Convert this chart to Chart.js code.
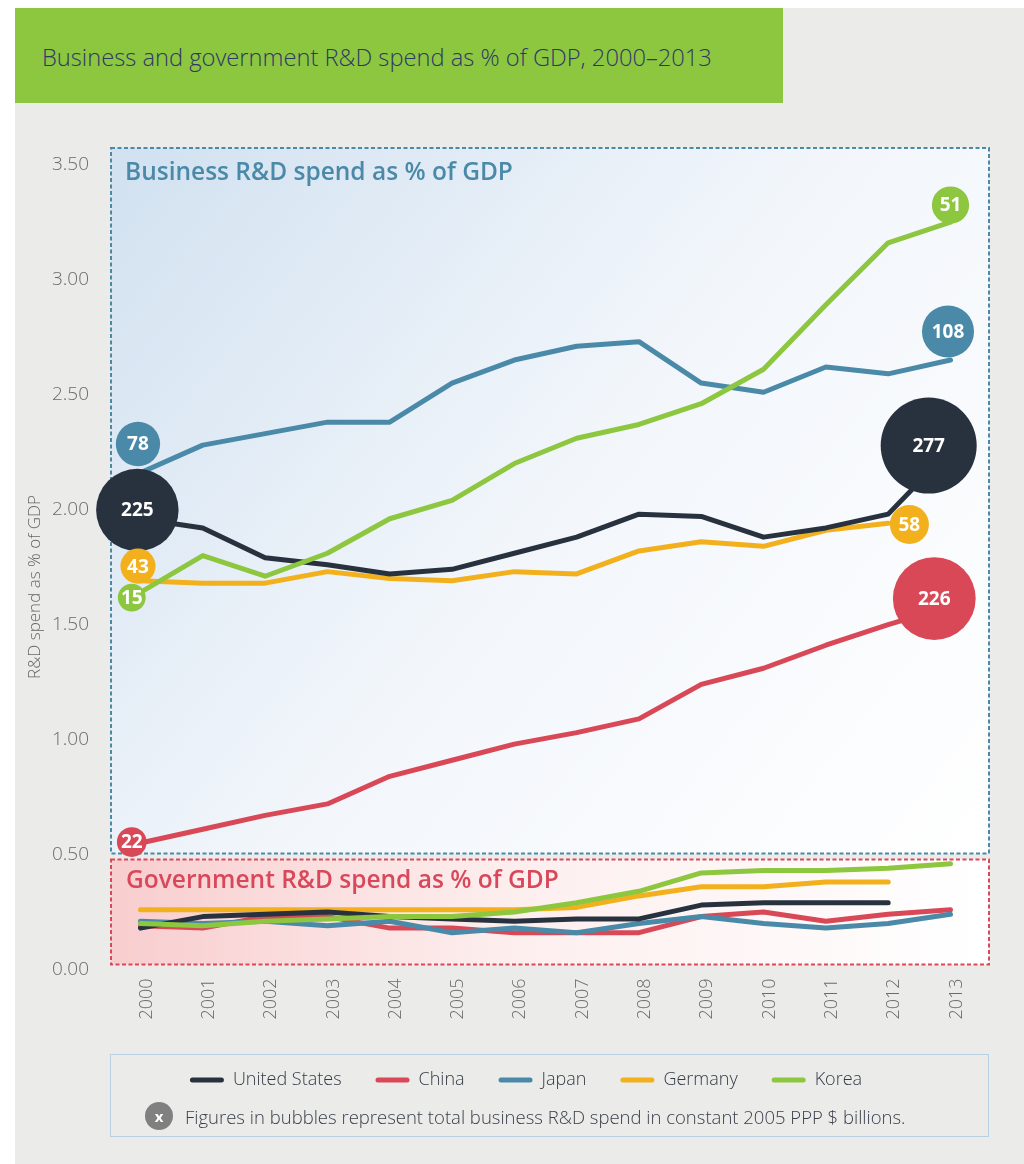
<!DOCTYPE html>
<html>
<head>
<meta charset="utf-8">
<title>Business and government R&amp;D spend as % of GDP, 2000–2013</title>
<script src="https://cdn.jsdelivr.net/npm/chart.js@4.4.1/dist/chart.umd.min.js"></script>
<style>
  body { margin: 0; background: #fff; font-family: "Open Sans", "Noto Sans", sans-serif; }
  #page { position: relative; width: 1024px; height: 1164px; overflow: hidden; }
  #panel { position: absolute; left: 15px; top: 8px; right: 0; bottom: 0; background: #ebebe9; }
  #header { position: absolute; left: 15px; top: 8px; width: 768px; height: 95px; background: #8dc63f;
            display: flex; align-items: center; }
  #header h1 { margin: 0 0 0 27px; padding-top: 3px; font-size: 23.7px; font-weight: 300; color: #2d3868; }
  #legend-frame { position: absolute; left: 110px; top: 1054px; width: 877px; height: 81px; border: 1px solid #b9cfe5; }
  #note { position: absolute; left: 145px; top: 1102px; height: 28px; display: flex; align-items: center;
          font-size: 18.5px; font-weight: 300; color: #383e4a; }
  #note .x { width: 28px; height: 28px; border-radius: 50%; background: #808080; color: #fff; font-weight: 700;
             font-size: 15px; display: flex; align-items: center; justify-content: center; margin-right: 12px; }
  canvas { position: absolute; left: 0; top: 0; }
</style>
</head>
<body>
<div id="page">
  <div id="panel"></div>
  <div id="header"><h1>Business and government R&amp;D spend as % of GDP, 2000–2013</h1></div>
  <div id="legend-frame"></div>
  <canvas id="rd-chart" width="1024" height="1164"></canvas>
  <div id="note"><span class="x">x</span>Figures in bubbles represent total business R&amp;D spend in constant 2005 PPP $ billions.</div>
</div>
<script>
const years = [2000, 2001, 2002, 2003, 2004, 2005, 2006, 2007, 2008, 2009, 2010, 2011, 2012, 2013];
const countries = ['United States', 'China', 'Japan', 'Germany', 'Korea'];

// business R&D spend, % of GDP
const businessUS      = [1.96, 1.92, 1.79, 1.76, 1.72, 1.74, 1.81, 1.88, 1.98, 1.97, 1.88, 1.92, 1.98, 2.26];
const businessChina   = [0.55, 0.61, 0.67, 0.72, 0.84, 0.91, 0.98, 1.03, 1.09, 1.24, 1.31, 1.41, 1.50, 1.58];
const businessJapan   = [2.16, 2.28, 2.33, 2.38, 2.38, 2.55, 2.65, 2.71, 2.73, 2.55, 2.51, 2.62, 2.59, 2.65];
const businessGermany = [1.69, 1.68, 1.68, 1.73, 1.70, 1.69, 1.73, 1.72, 1.82, 1.86, 1.84, 1.91, 1.94, null];
const businessKorea   = [1.64, 1.80, 1.71, 1.81, 1.96, 2.04, 2.20, 2.31, 2.37, 2.46, 2.61, 2.89, 3.16, 3.25];

// government R&D spend, % of GDP
const govUS      = [0.18, 0.23, 0.24, 0.25, 0.23, 0.22, 0.21, 0.22, 0.22, 0.28, 0.29, 0.29, 0.29, null];
const govChina   = [0.19, 0.18, 0.23, 0.23, 0.18, 0.18, 0.16, 0.16, 0.16, 0.23, 0.25, 0.21, 0.24, 0.26];
const govJapan   = [0.21, 0.20, 0.21, 0.19, 0.21, 0.16, 0.18, 0.16, 0.20, 0.23, 0.20, 0.18, 0.20, 0.24];
const govGermany = [0.26, 0.26, 0.26, 0.26, 0.26, 0.26, 0.26, 0.27, 0.32, 0.36, 0.36, 0.38, 0.38, null];
const govKorea   = [0.20, 0.19, 0.21, 0.22, 0.23, 0.23, 0.25, 0.29, 0.34, 0.42, 0.43, 0.43, 0.44, 0.46];

// bubbles: total business R&D spend, constant 2005 PPP $ bn
const bubbleValues  = [78, 225, 43, 15, 22, 51, 108, 277, 58, 226];
const bubbleCountry = ['Japan', 'United States', 'Germany', 'Korea', 'China',
                       'Korea', 'Japan', 'United States', 'Germany', 'China'];
const bubbleYears   = [1999.96, 1999.95, 1999.96, 1999.86, 1999.86, 2013.0, 2012.96, 2012.65, 2012.34, 2012.74];
const bubbleLevels  = [2.285, 1.998, 1.754, 1.617, 0.554, 3.324, 2.774, 2.278, 1.935, 1.613];

const yTicks = [0, 0.5, 1, 1.5, 2, 2.5, 3, 3.5];

const colors = {
  'United States': '#28323f',
  'China': '#d84857',
  'Japan': '#4a8aa8',
  'Germany': '#f2b11c',
  'Korea': '#8dc63f'
};
// lower = drawn on top
const drawOrder = { 'Korea': 1, 'United States': 2, 'Japan': 3, 'Germany': 4, 'China': 5 };

const FONT = '"Open Sans", "Noto Sans", sans-serif';
const business = [businessUS, businessChina, businessJapan, businessGermany, businessKorea];
const government = [govUS, govChina, govJapan, govGermany, govKorea];

function lineSet(label, country, values) {
  return {
    type: 'line',
    label: label,
    data: years.map((yr, i) => ({ x: yr, y: values[i] })),
    borderColor: colors[country],
    backgroundColor: colors[country],
    borderWidth: 5,
    borderJoinStyle: 'round',
    borderCapStyle: 'round',
    pointRadius: 0,
    tension: 0,
    spanGaps: false,
    order: drawOrder[country]
  };
}

const datasets = [];
countries.forEach((c, i) => datasets.push(lineSet(c, c, business[i])));
countries.forEach((c, i) => datasets.push(lineSet(c + ' government', c, government[i])));
datasets.push({
  type: 'bubble',
  label: 'bubbles',
  data: bubbleValues.map((v, i) => ({ x: bubbleYears[i], y: bubbleLevels[i] })),
  backgroundColor: ctx => colors[bubbleCountry[ctx.dataIndex]],
  radius: ctx => 12 + 0.13 * bubbleValues[ctx.dataIndex],
  borderWidth: 0,
  clip: false,
  order: 0
});

// shaded dashed panels behind the lines
const panels = {
  id: 'panels',
  beforeDatasetsDraw(chart) {
    const { ctx, chartArea: a, scales: { y } } = chart;
    const split = y.getPixelForValue(0.5);
    ctx.save();

    let g = ctx.createLinearGradient(a.left, a.top, a.right, split);
    g.addColorStop(0, '#d1e1f0');
    g.addColorStop(0.5, '#f2f6fb');
    g.addColorStop(1, '#ffffff');
    ctx.fillStyle = g;
    ctx.fillRect(a.left, a.top, a.right - a.left, split - 1 - a.top);

    const gTop = split + 5, gBottom = a.bottom - 5;
    g = ctx.createLinearGradient(a.left, 0, a.right, 0);
    g.addColorStop(0, '#f8cdce');
    g.addColorStop(0.45, '#fdeeee');
    g.addColorStop(1, '#ffffff');
    ctx.fillStyle = g;
    ctx.fillRect(a.left, gTop, a.right - a.left, gBottom - gTop);

    ctx.lineWidth = 2;
    ctx.setLineDash([4, 2.5]);
    ctx.strokeStyle = '#4a8aa8';
    ctx.strokeRect(a.left, a.top, a.right - a.left, split - 1 - a.top);
    ctx.strokeStyle = '#d9485a';
    ctx.strokeRect(a.left, gTop, a.right - a.left, gBottom - gTop);
    ctx.setLineDash([]);

    ctx.font = '600 24.5px ' + FONT;
    ctx.textBaseline = 'alphabetic';
    ctx.fillStyle = '#4a8aa8';
    ctx.fillText('Business R&D spend as % of GDP', a.left + 14, a.top + 32);
    ctx.fillStyle = '#d9485a';
    ctx.fillText('Government R&D spend as % of GDP', a.left + 15, gTop + 28);

    // y axis title
    ctx.translate(35, 587);
    ctx.rotate(-Math.PI / 2);
    ctx.font = '300 17px ' + FONT;
    ctx.fillStyle = '#666';
    ctx.textAlign = 'center';
    ctx.textBaseline = 'middle';
    ctx.fillText('R&D spend as % of GDP', 0, 0);
    ctx.restore();
  }
};

// numbers inside bubbles
const bubbleLabels = {
  id: 'bubbleLabels',
  afterDatasetsDraw(chart) {
    const { ctx } = chart;
    const meta = chart.getDatasetMeta(datasets.length - 1);
    ctx.save();
    ctx.font = '700 19px ' + FONT;
    ctx.fillStyle = '#fff';
    ctx.textAlign = 'center';
    ctx.textBaseline = 'middle';
    meta.data.forEach((el, i) => ctx.fillText(String(bubbleValues[i]), el.x, el.y + 1));
    ctx.restore();
  }
};

new Chart(document.getElementById('rd-chart'), {
  type: 'line',
  data: { datasets },
  plugins: [panels, bubbleLabels],
  options: {
    responsive: false,
    animation: false,
    events: [],
    layout: { autoPadding: false, padding: { left: 63, top: 148, right: 35, bottom: 65 } },
    scales: {
      x: {
        type: 'linear',
        min: 1999.527,
        max: 2013.618,
        grid: { display: false, drawTicks: false },
        border: { display: false },
        afterBuildTicks: s => { s.ticks = years.map(v => ({ value: v })); },
        afterFit: s => { s.height = 67.5; s.paddingLeft = 0; s.paddingRight = 0; },
        ticks: {
          minRotation: 90,
          maxRotation: 90,
          autoSkip: false,
          padding: 9,
          labelOffset: 6,
          color: '#6b6b6b',
          font: { family: FONT, size: 18, weight: 300 },
          callback: v => String(v)
        }
      },
      y: {
        min: 0,
        max: 3.572,
        grid: { display: false, drawTicks: false },
        border: { display: false },
        afterBuildTicks: s => { s.ticks = yTicks.map(v => ({ value: v })); },
        afterFit: s => { s.width = 48; },
        ticks: {
          mirror: true,
          padding: -59,
          color: '#6b6b6b',
          font: { family: FONT, size: 19, weight: 300 },
          callback: v => v.toFixed(2)
        }
      }
    },
    plugins: {
      tooltip: { enabled: false },
      legend: {
        position: 'bottom',
        labels: {
          boxWidth: 34,
          boxHeight: 5,
          padding: 34,
          useBorderRadius: true,
          borderRadius: 2.5,
          color: '#333a45',
          font: { family: FONT, size: 18, weight: 300 },
          filter: item => item.datasetIndex < countries.length,
          sort: (a, b) => a.datasetIndex - b.datasetIndex,
          generateLabels: chart => Chart.defaults.plugins.legend.labels.generateLabels(chart)
            .map(item => Object.assign(item, { lineWidth: 0 }))
        }
      }
    }
  }
});
</script>
</body>
</html>
